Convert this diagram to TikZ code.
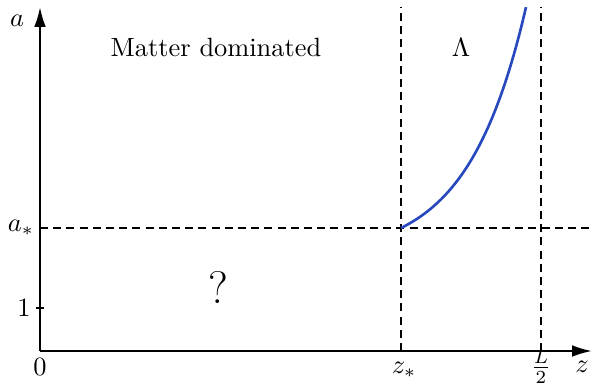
\documentclass[tikz,border=0pt]{standalone}
\usetikzlibrary{arrows.meta}
\definecolor{curveblue}{RGB}{40,72,190}
\begin{document}
\begin{tikzpicture}[x=0.3788pt,y=-0.3788pt,
  axis/.style={line width=0.8pt,-{Latex[length=7.5pt,width=4.4pt]}},
  guide/.style={line width=0.6pt,dash pattern=on 3pt off 2pt},
  lbl/.style={inner sep=0pt}]
\useasboundingbox (0,0) rectangle (592,383);
\coordinate (O) at (40,351);
\coordinate (ytip) at (40,7);
\coordinate (xtip) at (592,351);
\coordinate (zs) at (401,351);
\coordinate (zsTop) at (401,7);
\coordinate (Lh) at (541,351);
\coordinate (LhTop) at (541,7);
\coordinate (asL) at (40,228);
\coordinate (asR) at (592,228);
\coordinate (oneL) at (36,308);
\coordinate (oneR) at (44,308);
\draw[guide] (zs) -- (zsTop);
\draw[guide] (Lh) -- (LhTop);
\draw[guide] (asL) -- (asR);
\draw[axis] (O) -- (ytip);
\draw[axis] (O) -- (xtip);
\draw[line width=0.6pt] (oneL) -- (oneR);
\draw[curveblue,line width=1pt] plot[domain=401:526,samples=60,smooth] (\x,{228-28.7*(exp(0.0173*(\x-401))-1)});
\node[lbl] (la) at (17,21) {$a$};
\node[lbl] (las) at (21,228) {$a_*$};
\node[lbl] (l1) at (24,308) {$1$};
\node[lbl] (l0) at (40,367) {$0$};
\node[lbl] (lzs) at (404,370) {$z_*$};
\node[lbl] (lL) at (541,367) {$\frac{L}{2}$};
\node[lbl] (lz) at (582,367) {$z$};
\node[lbl] (md) at (216,47) {Matter dominated};
\node[lbl] (lam) at (461,47) {$\Lambda$};
\node[lbl] (q) at (218,287) {\LARGE ?};
\end{tikzpicture}
\end{document}
